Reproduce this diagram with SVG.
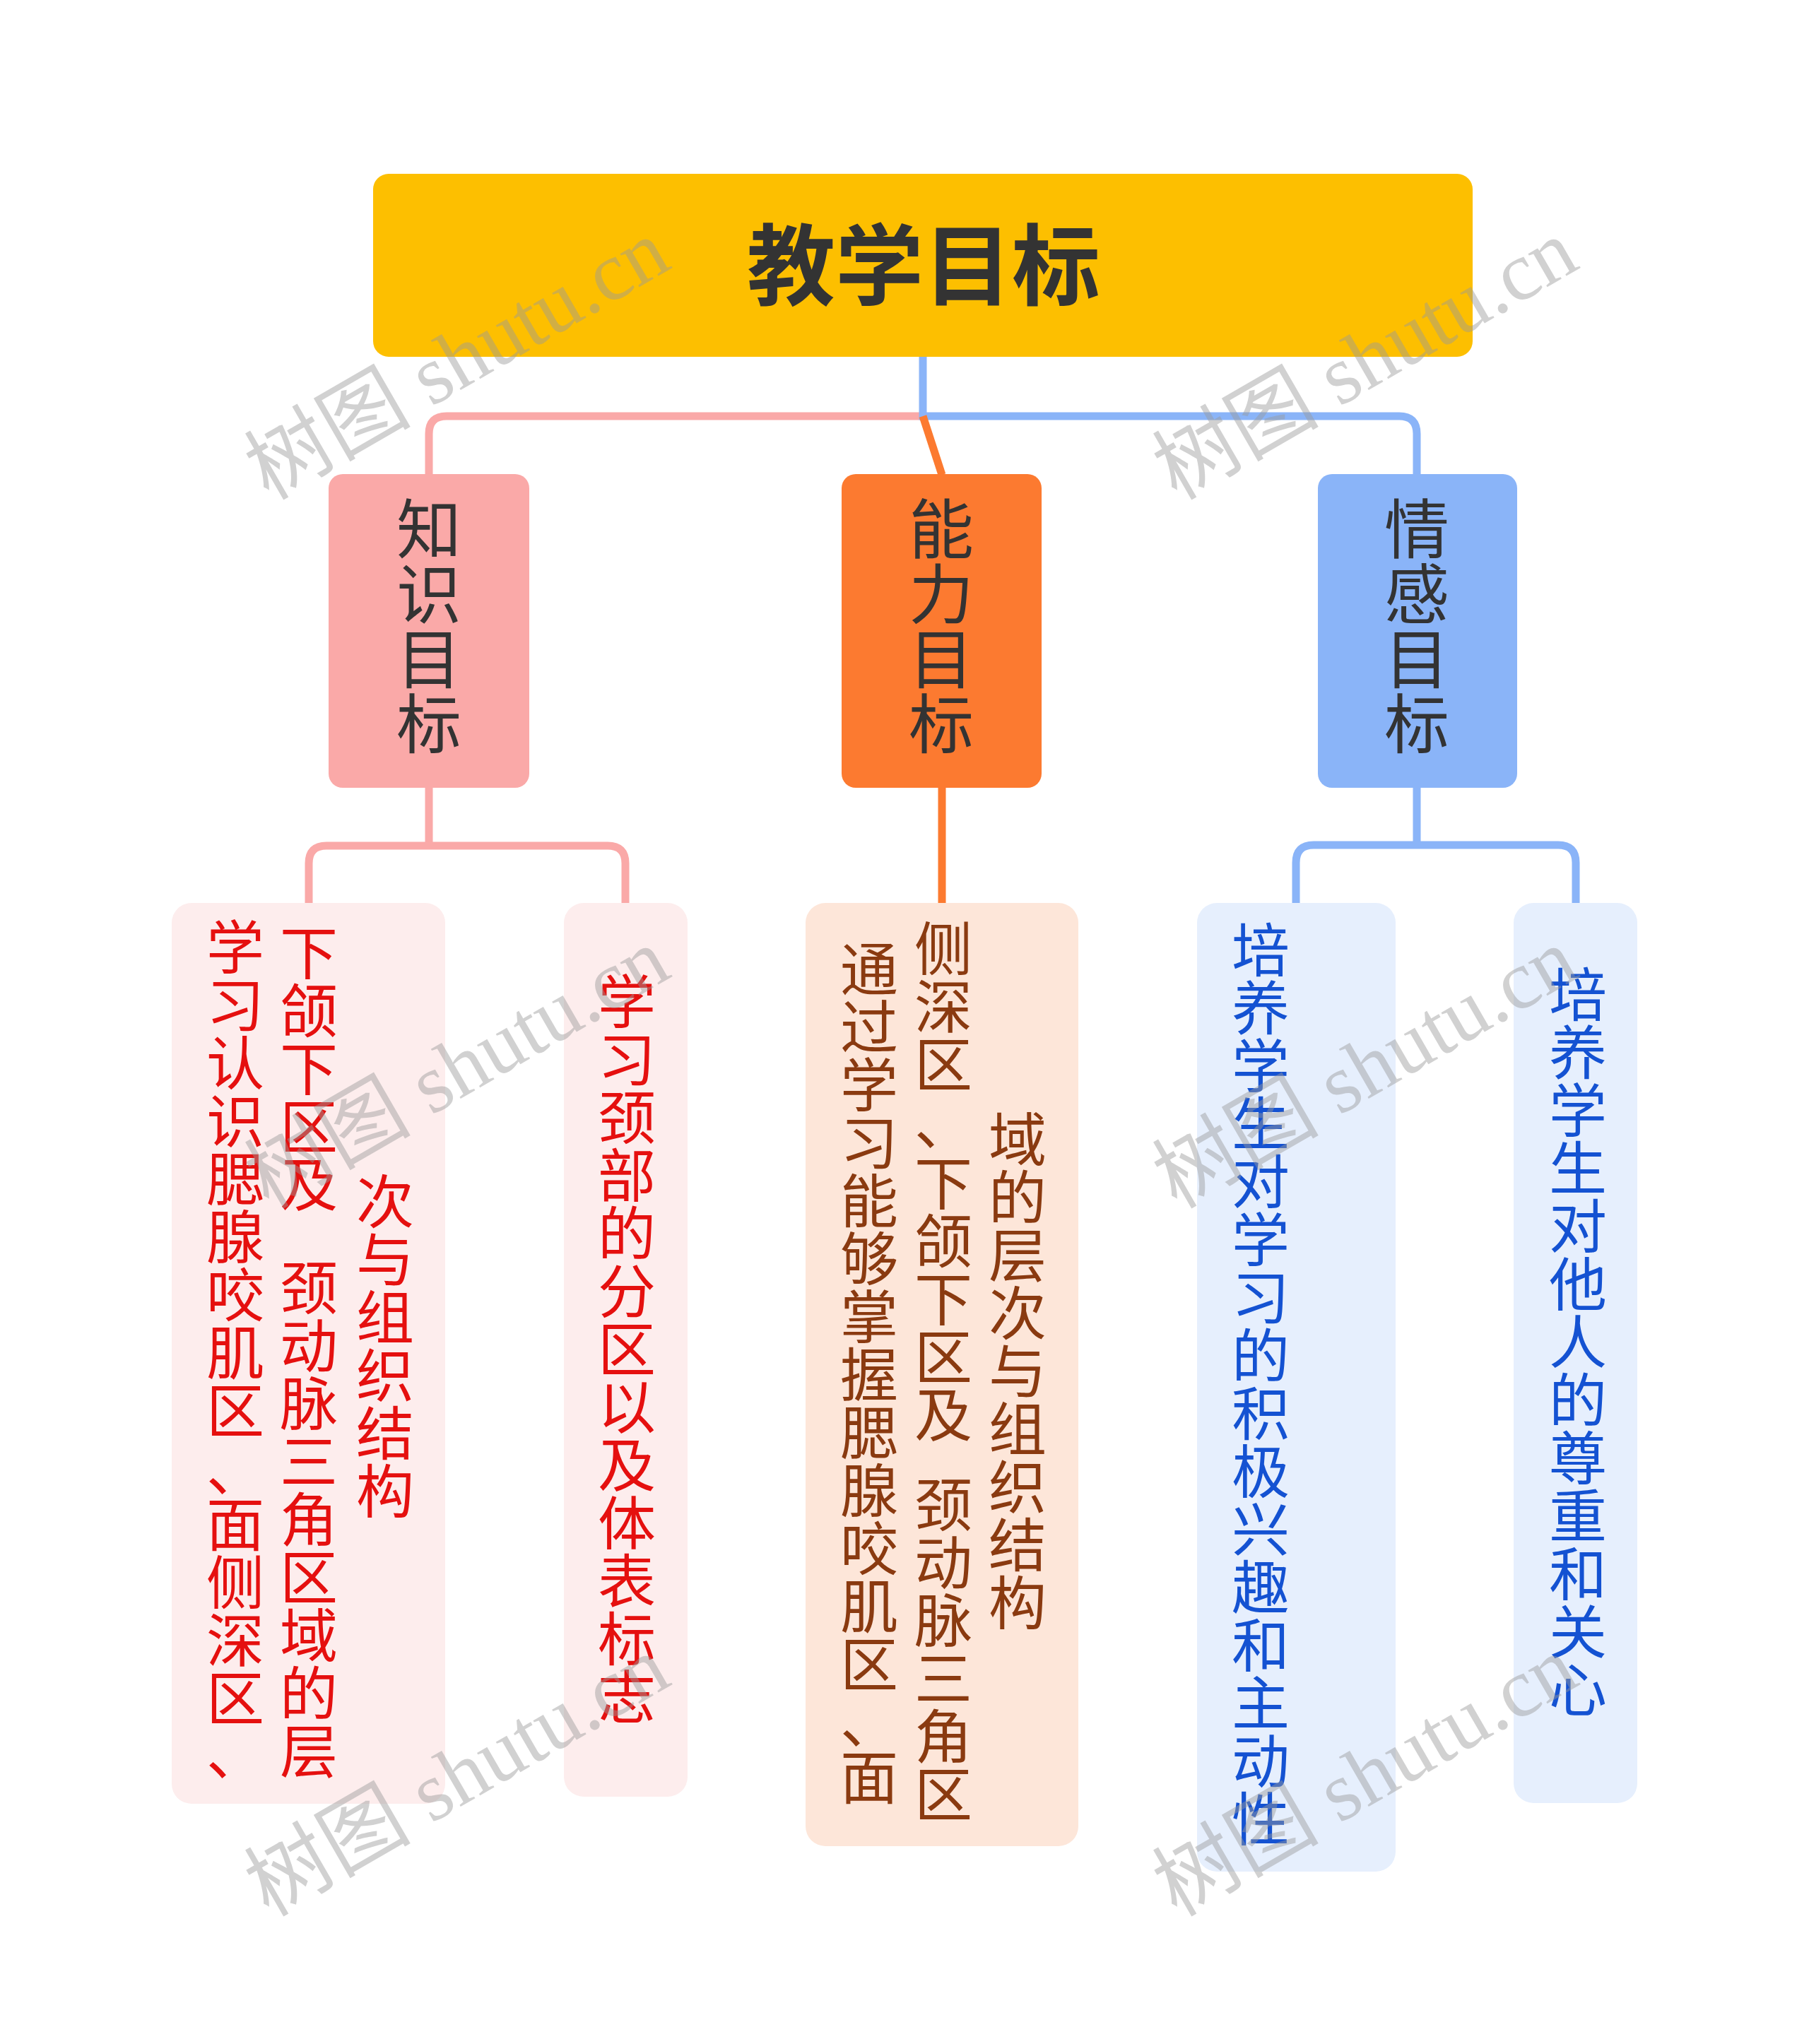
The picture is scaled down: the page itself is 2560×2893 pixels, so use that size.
<svg xmlns="http://www.w3.org/2000/svg" width="2560" height="2893" viewBox="0 0 2560 2893">
<style>
.cjk{font-family:"Noto Sans CJK SC","Noto Sans",sans-serif;text-anchor:middle}
.root{font-size:125px;font-weight:bold;fill:#333}
.l1{font-size:92px;fill:#333}
.l2{font-size:82px}
.red{fill:#E5100F}
.brown{fill:#8A3A10}
.blue{fill:#1452D2}
.con{fill:none;stroke-width:11;stroke-linecap:butt}
.wm{font-family:"Liberation Serif","Noto Sans CJK SC",serif;font-size:118px;fill:#9a9a9a;opacity:0.45}
</style>
<rect width="2560" height="2893" fill="#fff"/>
<g id="connectors">
<path class="con" stroke="#FAA9A8" d="M1306,589 H632 Q607,589 607,614 V672"/>
<path class="con" stroke="#8AB4F8" d="M1306,505 V589 H1980 Q2005,589 2005,614 V672"/>
<path class="con" stroke="#FC7A30" d="M1306,589 L1333,672"/>
<path class="con" stroke="#FAA9A8" d="M607,1115 V1197 M437,1278 V1222 Q437,1197 462,1197 H860 Q885,1197 885,1222 V1278"/>
<path class="con" stroke="#FC7A30" d="M1333,1115 V1278"/>
<path class="con" stroke="#8AB4F8" d="M2005,1115 V1196 M1834,1278 V1221 Q1834,1196 1859,1196 H2205 Q2230,1196 2230,1221 V1278"/>
</g>
<g id="root">
<rect x="528" y="246" width="1556" height="259" rx="22" fill="#FDBF00"/>
<text class="cjk root" x="1307" y="422">教学目标</text>
</g>
<g id="knowledge">
<rect x="465" y="671" width="284" height="444" rx="20" fill="#FAA9A8"/>
<text class="cjk l1" x="607 607 607 607" y="783 875 967 1059">知识目标</text>
</g>
<g id="ability">
<rect x="1191" y="671" width="283" height="444" rx="20" fill="#FC7A30"/>
<text class="cjk l1" x="1332 1332 1332 1332" y="783 875 967 1059">能力目标</text>
</g>
<g id="emotion">
<rect x="1865" y="671" width="282" height="444" rx="20" fill="#8AB4F8"/>
<text class="cjk l1" x="2005 2005 2005 2005" y="783 875 967 1059">情感目标</text>
</g>
<g id="k1">
<rect x="243" y="1278" width="387" height="1275" rx="28" fill="#FDEDED"/>
<text class="cjk l2 red" x="333 333 333 333 333 333 333 333 333 333 333 333 333 333 333" y="1371 1453 1535 1617 1699 1781 1863 1945 2027 2110 2188 2270 2352 2434 2512">学习认识腮腺咬肌区、面侧深区、</text>
<text class="cjk l2 red" x="437 437 437 437 437 437 437 437 437 437 437 437 437 437" y="1379 1461 1543 1625 1707 1853 1935 2017 2099 2181 2263 2345 2427 2509">下颌下区及颈动脉三角区域的层</text>
<text class="cjk l2 red" x="545 545 545 545 545 545" y="1731 1813 1895 1977 2059 2141">次与组织结构</text>
</g>
<g id="k2">
<rect x="798" y="1278" width="175" height="1265" rx="28" fill="#FDEDED"/>
<text class="cjk l2 red" x="887 887 887 887 887 887 887 887 887 887 887 887 887" y="1448 1530 1612 1694 1776 1858 1940 2022 2104 2186 2268 2350 2432">学习颈部的分区以及体表标志</text>
</g>
<g id="a1">
<rect x="1140" y="1278" width="386" height="1335" rx="28" fill="#FDE6D9"/>
<text class="cjk l2 brown" x="1230 1230 1230 1230 1230 1230 1230 1230 1230 1230 1230 1230 1230 1230 1230" y="1402 1484 1566 1648 1730 1812 1894 1976 2058 2140 2222 2304 2386 2467 2546">通过学习能够掌握腮腺咬肌区、面</text>
<text class="cjk l2 brown" x="1335 1335 1335 1335 1335 1335 1335 1335 1335 1335 1335 1335 1335 1335 1335" y="1373 1455 1537 1620 1705 1787 1869 1951 2033 2160 2242 2324 2406 2488 2570">侧深区、下颌下区及颈动脉三角区</text>
<text class="cjk l2 brown" x="1440 1440 1440 1440 1440 1440 1440 1440 1440" y="1643 1725 1807 1889 1971 2053 2135 2217 2299">域的层次与组织结构</text>
</g>
<g id="e1">
<rect x="1694" y="1278" width="281" height="1371" rx="28" fill="#E6EFFD"/>
<text class="cjk l2 blue" x="1784 1784 1784 1784 1784 1784 1784 1784 1784 1784 1784 1784 1784 1784 1784 1784" y="1375 1457 1539 1621 1703 1785 1867 1949 2031 2113 2195 2277 2359 2441 2523 2605">培养学生对学习的积极兴趣和主动性</text>
</g>
<g id="e2">
<rect x="2142" y="1278" width="175" height="1274" rx="28" fill="#E6EFFD"/>
<text class="cjk l2 blue" x="2233 2233 2233 2233 2233 2233 2233 2233 2233 2233 2233 2233 2233" y="1438 1520 1602 1684 1766 1848 1930 2012 2094 2176 2258 2340 2422">培养学生对他人的尊重和关心</text>
</g>
<g id="watermarks">
<text class="wm" transform="translate(380,709) rotate(-30)">树图 shutu.cn</text>
<text class="wm" transform="translate(1665,709) rotate(-30)">树图 shutu.cn</text>
<text class="wm" transform="translate(380,1712) rotate(-30)">树图 shutu.cn</text>
<text class="wm" transform="translate(1665,1712) rotate(-30)">树图 shutu.cn</text>
<text class="wm" transform="translate(380,2714) rotate(-30)">树图 shutu.cn</text>
<text class="wm" transform="translate(1665,2714) rotate(-30)">树图 shutu.cn</text>
</g>
</svg>
